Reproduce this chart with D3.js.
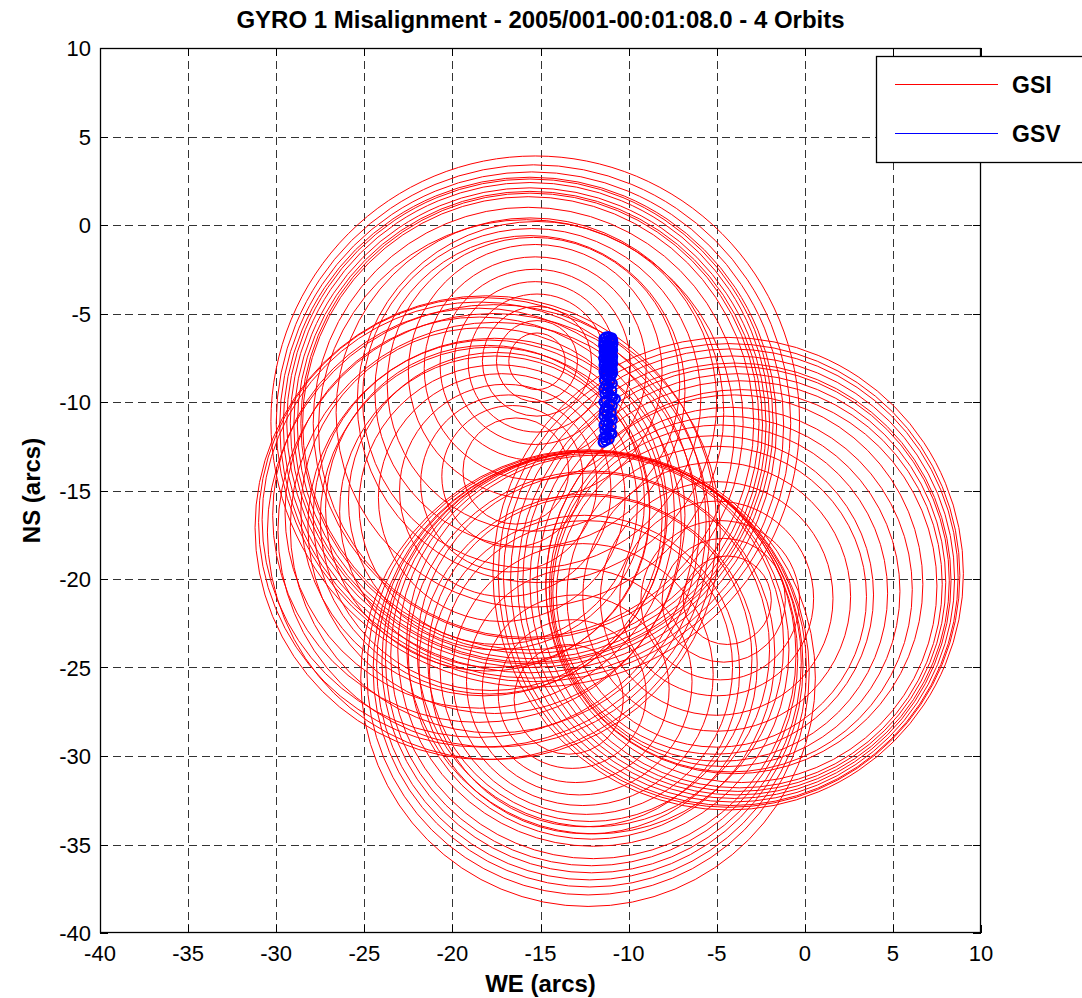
<!DOCTYPE html>
<html><head><meta charset="utf-8">
<script src="https://cdn.jsdelivr.net/npm/d3@7"></script>
<style>body{margin:0;background:#fff}svg{display:block}</style>
</head><body><svg id="c" width="1082" height="998"></svg>
<script>
const titleText = "GYRO 1 Misalignment - 2005/001-00:01:08.0 - 4 Orbits";
const xLabel = "WE (arcs)";
const yLabel = "NS (arcs)";
const xTicks = [-40,-35,-30,-25,-20,-15,-10,-5,0,5,10];
const yTicks = [-40,-35,-30,-25,-20,-15,-10,-5,0,5,10];
const seriesNames = ["GSI","GSV"];

// GSI loops, one list per orbit: [centre WE, centre NS, radius] (arcs)
const gsiOrbit1 = [
  [-15.3,-11.1,15.0],[-15.4,-11.2,14.6],[-15.5,-11.3,14.3],[-15.6,-11.3,14.0],
  [-15.6,-11.2,13.8],[-15.6,-11.2,13.6],[-15.6,-11.3,13.4],[-15.6,-11.3,13.2],
  [-15.6,-11.2,13.0],[-15.7,-11.2,12.8],[-15.7,-11.2,12.2],[-15.8,-11.5,11.8],
  [-15.6,-10.6,11.0],[-15.2,-10.0,10.2],[-15.5,-9.8,9.6],[-15.6,-9.4,8.8],
  [-15.4,-9.0,8.3],[-15.3,-8.3,7.2],[-15.3,-8.1,6.3],
  [-15.3,-7.9,5.4],[-15.3,-7.8,4.6],[-15.2,-7.8,3.9],[-15.2,-7.7,3.1],
  [-15.2,-7.7,2.3],[-15.2,-7.7,1.6]
];
const gsiOrbit2 = [
  [-18.1,-17.1,13.1],[-18.3,-16.8,12.7],[-18.5,-16.65,12.3],[-17.65,-17.35,12.85],
  [-18.5,-16.4,11.7],[-17.65,-17.25,12.25],[-18.45,-16.25,11.05],[-17.6,-17.1,11.6],
  [-18.2,-16.2,10.4],[-17.6,-17.0,10.6],[-17.9,-16.5,10.0],[-17.8,-16.6,9.7],
  [-18.0,-16.0,9.2],[-17.6,-16.2,8.8],[-17.5,-15.6,8.4],
  [-17.4,-15.8,7.9],[-17.2,-15.4,7.0],[-17.0,-15.0,6.0],[-16.8,-14.6,5.0],
  [-16.6,-14.2,4.0],[-16.4,-13.9,3.0]
];
const gsiOrbit3 = [
  [-4.35,-19.7,13.35],[-4.3,-19.8,13.1],[-4.2,-19.9,12.9],[-4.1,-20.0,12.6],
  [-4.0,-20.1,12.3],[-3.9,-20.1,12.1],[-3.8,-20.2,11.8],[-3.7,-20.3,11.5],
  [-3.6,-20.4,11.1],[-4.0,-20.3,10.7],[-4.2,-20.6,10.3],[-4.5,-20.7,9.9],
  [-4.8,-20.8,9.5],[-5.1,-20.9,9.0],[-5.0,-21.0,8.5],
  [-5.0,-21.0,7.6],[-5.0,-21.1,6.6],[-5.0,-21.1,5.5],[-4.8,-21.2,4.5],
  [-4.6,-21.2,3.5],[-4.4,-21.2,2.5]
];
const gsiOrbit4 = [
  [-12.3,-25.6,12.9],[-12.3,-25.3,12.55],[-12.2,-25.1,12.3],[-12.2,-24.9,12.1],
  [-12.1,-24.7,11.9],[-12.1,-24.5,11.7],[-12.0,-24.3,11.5],[-12.0,-24.0,11.1],
  [-11.9,-23.7,10.7],[-12.1,-24.3,10.4],[-12.0,-24.0,10.0],[-12.3,-24.8,9.6],
  [-12.2,-24.5,9.2],[-12.5,-25.2,8.8],[-12.4,-25.0,8.3],
  [-12.6,-25.4,7.4],[-12.8,-25.8,6.4],[-13.0,-26.2,5.3],[-13.2,-26.5,4.2],
  [-13.4,-26.8,3.1]
];

// GSV samples (arcs)
const gsvX = [-11.15,-11.30,-10.95,-11.40,-11.05,-10.90,-11.25,-11.40,-11.00,-10.88,
  -11.20,-11.42,-11.10,-10.92,-11.30,-11.38,-11.02,-10.90,-11.22,-11.40,
  -11.08,-10.95,-11.35,-11.15,-10.90,-11.28,-11.42,-11.05,-10.92,-11.25,
  -11.38,-11.00,-10.90,-11.20,-11.40,-11.10,-10.95,-11.32,-11.18,-10.92,
  -11.30,-11.40,-11.05,-10.90,-11.25,-11.35,-11.00,
  -11.20,-11.38,-11.05,-10.92,-11.30,-11.15,-11.40,-10.95,-11.22,-11.35,
  -11.00,-10.90,-10.75,-11.28,-11.40,-11.05,-10.92,-11.30,-11.15,-11.38,
  -10.98,-11.25,-11.40,-11.02,-10.92,-11.30,-11.15,-11.40,-10.98,-11.22,
  -11.35,-11.05,-10.95,-11.28,-11.40,-11.10,-11.30,-11.45];
const gsvY = [-6.30,-6.33,-6.37,-6.42,-6.46,-6.50,-6.55,-6.60,-6.64,-6.69,
  -6.74,-6.79,-6.83,-6.88,-6.93,-6.98,-7.03,-7.08,-7.13,-7.18,
  -7.23,-7.28,-7.33,-7.38,-7.43,-7.48,-7.53,-7.58,-7.63,-7.68,
  -7.73,-7.78,-7.83,-7.88,-7.93,-7.98,-8.03,-8.08,-8.13,-8.18,
  -8.23,-8.28,-8.33,-8.38,-8.43,-8.48,-8.55,
  -8.65,-8.75,-8.85,-8.95,-9.05,-9.15,-9.25,-9.35,-9.45,-9.55,
  -9.65,-9.75,-9.82,-9.90,-10.00,-10.10,-10.20,-10.30,-10.40,-10.50,
  -10.60,-10.70,-10.80,-10.90,-11.00,-11.10,-11.20,-11.30,-11.40,-11.50,
  -11.60,-11.70,-11.80,-11.90,-12.00,-12.10,-12.20,-12.28];

const L=100,R=981,T=48,B=933;
const x = d3.scaleLinear().domain([-40,10]).range([L,R]);
const y = d3.scaleLinear().domain([-40,10]).range([B,T]);
const svg = d3.select("#c");
const font = "'Liberation Sans', Arial, sans-serif";

svg.append("rect").attr("width",1082).attr("height",998).attr("fill","#fff");

// grid
const grid = svg.append("g").attr("stroke","#333").attr("stroke-width",1).attr("stroke-dasharray","8,4.7").attr("shape-rendering","crispEdges");
grid.selectAll("line.v").data(xTicks.slice(1,-1)).join("line").attr("class","v")
  .attr("x1",d=>Math.round(x(d))+0.5).attr("x2",d=>Math.round(x(d))+0.5).attr("y1",T).attr("y2",B);
grid.selectAll("line.h").data(yTicks.slice(1,-1)).join("line").attr("class","h")
  .attr("y1",d=>Math.round(y(d))+0.5).attr("y2",d=>Math.round(y(d))+0.5).attr("x1",L).attr("x2",R);

// GSI
svg.append("clipPath").attr("id","pc").append("rect").attr("x",L).attr("y",T).attr("width",R-L).attr("height",B-T);
const data = svg.append("g").attr("clip-path","url(#pc)");
const allLoops = [].concat(gsiOrbit1,gsiOrbit2,gsiOrbit3,gsiOrbit4);
data.append("g").selectAll("ellipse").data(allLoops).join("ellipse")
  .attr("cx",d=>x(d[0])).attr("cy",d=>y(d[1]))
  .attr("rx",d=>x(d[0]+d[2])-x(d[0])).attr("ry",d=>y(d[1]-d[2])-y(d[1]))
  .attr("fill","none").attr("stroke","#ff0000").attr("stroke-width",1);

// GSV
const gsv = gsvX.map((v,i)=>[v,gsvY[i]]);
data.append("path").datum(gsv).attr("d",d3.line().x(d=>x(d[0])).y(d=>y(d[1])))
  .attr("fill","none").attr("stroke","#0000ff").attr("stroke-width",1.2);
data.append("g").selectAll("circle").data(gsv).join("circle")
  .attr("cx",d=>x(d[0])).attr("cy",d=>y(d[1])).attr("r",4.4)
  .attr("fill","none").attr("stroke","#0000ff").attr("stroke-width",2.2);

// axes box
svg.append("rect").attr("x",L+0.5).attr("y",T+0.5).attr("width",R-L-1).attr("height",B-T-1)
  .attr("fill","none").attr("stroke","#000").attr("stroke-width",1.3);
// ticks
const tk = svg.append("g").attr("stroke","#000").attr("stroke-width",1);
xTicks.forEach(t=>{const px=Math.round(x(t))+0.5;
  tk.append("line").attr("x1",px).attr("x2",px).attr("y1",B).attr("y2",B-8);
  tk.append("line").attr("x1",px).attr("x2",px).attr("y1",T).attr("y2",T+8);});
yTicks.forEach(t=>{const py=Math.round(y(t))+0.5;
  tk.append("line").attr("y1",py).attr("y2",py).attr("x1",L).attr("x2",L+8);
  tk.append("line").attr("y1",py).attr("y2",py).attr("x1",R).attr("x2",R-8);});

// tick labels
svg.append("g").selectAll("text").data(xTicks).join("text")
  .attr("x",d=>x(d)).attr("y",961).attr("text-anchor","middle")
  .attr("font-family",font).attr("font-size",22).text(d=>d);
svg.append("g").selectAll("text").data(yTicks).join("text")
  .attr("x",91).attr("y",d=>y(d)+8).attr("text-anchor","end")
  .attr("font-family",font).attr("font-size",22).text(d=>d);

// title & labels
svg.append("text").attr("x",(L+R)/2).attr("y",28).attr("text-anchor","middle")
  .attr("font-family",font).attr("font-weight","bold").attr("font-size",24).text(titleText);
svg.append("text").attr("x",(L+R)/2).attr("y",992).attr("text-anchor","middle")
  .attr("font-family",font).attr("font-weight","bold").attr("font-size",24).text(xLabel);
svg.append("text").attr("transform",`translate(40,${(T+B)/2}) rotate(-90)`).attr("text-anchor","middle")
  .attr("font-family",font).attr("font-weight","bold").attr("font-size",24).text(yLabel);

// legend
const lg = svg.append("g");
lg.append("rect").attr("x",876.5).attr("y",56.5).attr("width",210).attr("height",106)
  .attr("fill","#fff").attr("stroke","#000").attr("stroke-width",1.3);
const lc = ["#ff0000","#0000ff"], ly=[84,133];
seriesNames.forEach((n,i)=>{
  lg.append("line").attr("x1",895).attr("x2",998).attr("y1",ly[i]+0.5).attr("y2",ly[i]+0.5).attr("stroke",lc[i]).attr("stroke-width",1.2);
  lg.append("text").attr("x",1012).attr("y",ly[i]+9).attr("font-family",font).attr("font-weight","bold").attr("font-size",23).text(n);
});
</script></body></html>
